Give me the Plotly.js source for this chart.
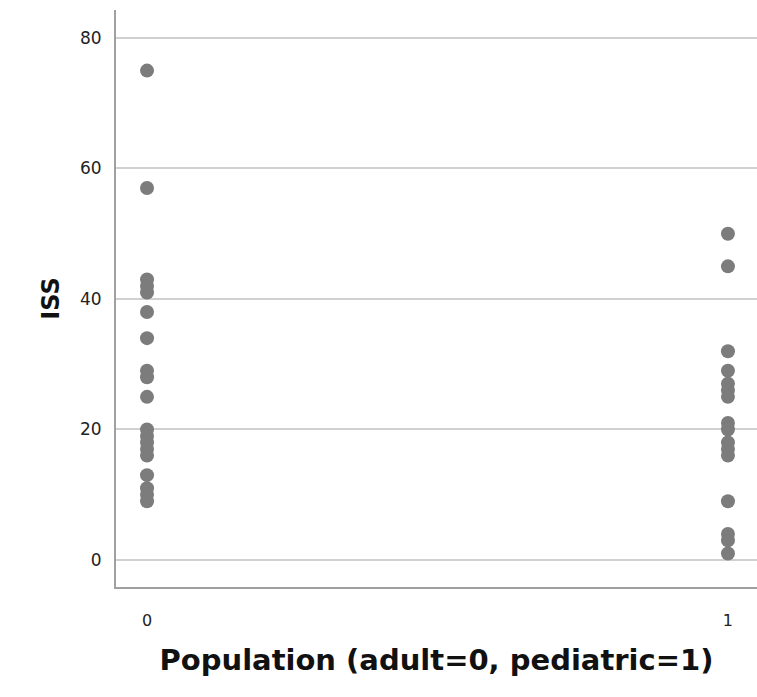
<!DOCTYPE html>
<html>
<head>
<meta charset="utf-8">
<script src="https://cdn.plot.ly/plotly-3.0.1.min.js"></script>
<style>html,body{margin:0;padding:0;background:#fff;}#chart{width:757px;height:697px;}</style>
</head>
<body>
<div id="chart"></div>
<script>
// Adult population (0)
const adultISS = [75, 57, 43, 42, 41, 38, 34, 29, 28, 25, 20, 19, 18, 17, 16, 13, 11, 10, 9];
// Pediatric population (1)
const pediatricISS = [50, 45, 32, 29, 27, 26, 25, 21, 20, 18, 17, 16, 9, 4, 3, 1];
const groupCodes = [0, 1];
const yTickVals = [0, 20, 40, 60, 80];
const yTickText = ['0', '20', '40', '60', '80'];
const xTitle = 'Population (adult=0, pediatric=1)';
const yTitle = 'ISS';

const xs = adultISS.map(() => groupCodes[0]).concat(pediatricISS.map(() => groupCodes[1]));
const ys = adultISS.concat(pediatricISS);

const trace = {
  x: xs, y: ys, type: 'scatter', mode: 'markers',
  marker: {color: '#7c7c7c', size: 14, line: {width: 0}},
  hoverinfo: 'x+y'
};

const layout = {
  width: 757, height: 697,
  margin: {l: 116, r: 0, t: 10, b: 110},
  paper_bgcolor: '#ffffff', plot_bgcolor: '#ffffff',
  showlegend: false,
  font: {family: 'DejaVu Sans, Verdana, sans-serif', color: '#222222'},
  xaxis: {
    range: [-0.0534, 1.05],
    tickvals: groupCodes, ticktext: groupCodes.map(String),
    showgrid: false, zeroline: false,
    showline: true, linecolor: '#a0a0a0', linewidth: 2,
    ticks: '', ticklabelstandoff: 18,
    tickfont: {size: 16, color: '#222222'},
    title: {text: xTitle, font: {size: 29, family: 'DejaVu Sans, sans-serif', weight: 'bold', color: '#111111'}, standoff: 20}
  },
  yaxis: {
    range: [-4.14, 84.29],
    tickvals: yTickVals, ticktext: yTickText,
    showgrid: true, gridcolor: '#d0d0d0', gridwidth: 2,
    zeroline: false,
    showline: true, linecolor: '#a0a0a0', linewidth: 2,
    ticks: '', ticklabelstandoff: 9,
    tickfont: {size: 17, color: '#222222'},
    title: {text: yTitle, font: {size: 24, family: 'DejaVu Sans, sans-serif', weight: 'bold', color: '#111111'}, standoff: 14}
  }
};

Plotly.newPlot('chart', [trace], layout, {displayModeBar: false, staticPlot: true});
</script>
</body>
</html>
